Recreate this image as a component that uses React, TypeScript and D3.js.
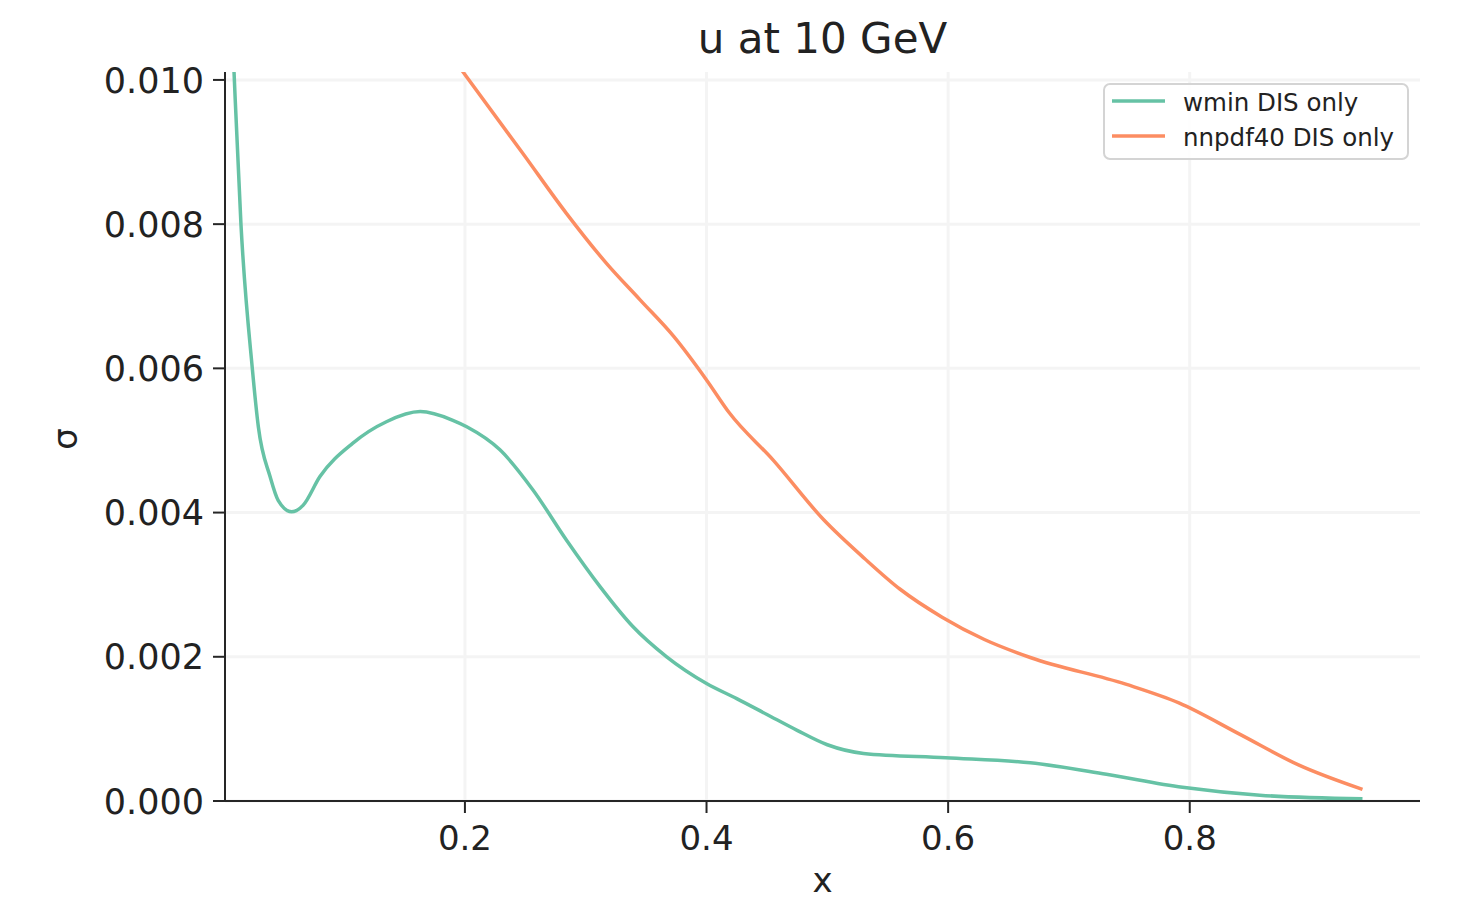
import React from "react";
import * as d3 from "d3";

const title = "u at 10 GeV";
const xLabel = "x";
const yLabel = "σ";
const xTicks = [0.2, 0.4, 0.6, 0.8];
const yTicks = [0, 0.002, 0.004, 0.006, 0.008, 0.01];

const seriesNames = ["wmin DIS only", "nnpdf40 DIS only"];
const seriesColors = ["#66c2a5", "#fc8d62"];

const wminX = [0.0075, 0.0089, 0.0146, 0.024, 0.029, 0.0387, 0.0454, 0.0566, 0.066, 0.08, 0.107, 0.135, 0.163, 0.19, 0.2015, 0.229, 0.2565, 0.284, 0.312, 0.339, 0.367, 0.4, 0.425, 0.45, 0.475, 0.5, 0.53, 0.598, 0.668, 0.731, 0.794, 0.858, 0.943];
const wminY = [0.01065, 0.0101, 0.008, 0.006, 0.00519, 0.0045, 0.00417, 0.00401, 0.0041, 0.0045, 0.00496, 0.00526, 0.0054, 0.00528, 0.00519, 0.00487, 0.00431, 0.00362, 0.00297, 0.00242, 0.002, 0.00163, 0.00142, 0.0012, 0.00098, 0.00078, 0.00066, 0.0006, 0.00053, 0.00037, 0.00019, 0.00008, 0.00003];

const nnpdfX = [0.19, 0.198, 0.248, 0.284, 0.317, 0.345, 0.373, 0.4, 0.419, 0.455, 0.497, 0.531, 0.56, 0.595, 0.63, 0.668, 0.747, 0.791, 0.842, 0.89, 0.943];
const nnpdfY = [0.0103, 0.01012, 0.00898, 0.00815, 0.00746, 0.00695, 0.00644, 0.00584, 0.00538, 0.00473, 0.0039, 0.00336, 0.00294, 0.00255, 0.00224, 0.00199, 0.00162, 0.00136, 0.00092, 0.0005, 0.00016];

const W = 1474;
const H = 899;
const left = 225, right = 1420, top = 72, bottom = 801;

export default function App() {
  const x = d3.scaleLinear().domain([0.0014, 0.9906]).range([left, right]);
  const y = d3.scaleLinear().domain([0, 0.01011]).range([bottom, top]);
  const line = d3
    .line<[number, number]>()
    .x((d) => x(d[0]))
    .y((d) => y(d[1]))
    .curve(d3.curveMonotoneX);
  const series = [
    { name: seriesNames[0], color: seriesColors[0], pts: wminX.map((v, i) => [v, wminY[i]] as [number, number]) },
    { name: seriesNames[1], color: seriesColors[1], pts: nnpdfX.map((v, i) => [v, nnpdfY[i]] as [number, number]) },
  ];
  const font = "DejaVu Sans, sans-serif";
  const axisColor = "#262626";
  return (
    <div style={{ position: "absolute", left: 0, top: 0 }}>
      <svg width={W} height={H} style={{ display: "block", background: "#fff" }}>
        <defs>
          <clipPath id="plotclip">
            <rect x={left} y={top} width={right - left} height={bottom - top} />
          </clipPath>
        </defs>
        {yTicks.map((t) => (
          <line key={"gy" + t} x1={left} x2={right} y1={y(t)} y2={y(t)} stroke="#f4f4f4" strokeWidth={3} />
        ))}
        {xTicks.map((t) => (
          <line key={"gx" + t} x1={x(t)} x2={x(t)} y1={top} y2={bottom} stroke="#f4f4f4" strokeWidth={3} />
        ))}
        <g clipPath="url(#plotclip)">
          {series.map((s) => (
            <path key={s.name} d={line(s.pts) || ""} fill="none" stroke={s.color} strokeWidth={3.5} strokeLinejoin="round" />
          ))}
        </g>
        <line x1={left} x2={left} y1={top} y2={bottom + 1} stroke={axisColor} strokeWidth={2} />
        <line x1={left - 1} x2={right} y1={bottom} y2={bottom} stroke={axisColor} strokeWidth={2} />
        {yTicks.map((t) => (
          <g key={"yt" + t}>
            <line x1={left - 12} x2={left} y1={y(t)} y2={y(t)} stroke={axisColor} strokeWidth={2} />
            <text x={left - 21} y={y(t)} dy="0.36em" textAnchor="end" fontFamily={font} fontSize={35} fill="#222">
              {d3.format(".3f")(t)}
            </text>
          </g>
        ))}
        {xTicks.map((t) => (
          <g key={"xt" + t}>
            <line x1={x(t)} x2={x(t)} y1={bottom} y2={bottom + 12} stroke={axisColor} strokeWidth={2} />
            <text x={x(t)} y={850} textAnchor="middle" fontFamily={font} fontSize={34} fill="#222">
              {d3.format(".1f")(t)}
            </text>
          </g>
        ))}
        <text x={(left + right) / 2} y={892} textAnchor="middle" fontFamily={font} fontSize={34} fill="#222">
          {xLabel}
        </text>
        <text transform={`translate(77,439) rotate(-90)`} textAnchor="middle" fontFamily={font} fontSize={34} fill="#222">
          {yLabel}
        </text>
        <text x={(left + right) / 2} y={53} textAnchor="middle" fontFamily={font} fontSize={42} fill="#222">
          {title}
        </text>
        <rect x={1104} y={84} width={304} height={75} rx={6} fill="#fff" fillOpacity={0.85} stroke="#d4d4d4" strokeWidth={2} />
        {series.map((s, i) => (
          <g key={"lg" + s.name}>
            <line x1={1112} x2={1165} y1={101 + i * 35} y2={101 + i * 35} stroke={s.color} strokeWidth={3.5} />
            <text x={1183} y={102 + i * 35} dy="0.36em" fontFamily={font} fontSize={24.5} fill="#222">
              {s.name}
            </text>
          </g>
        ))}
      </svg>
    </div>
  );
}
